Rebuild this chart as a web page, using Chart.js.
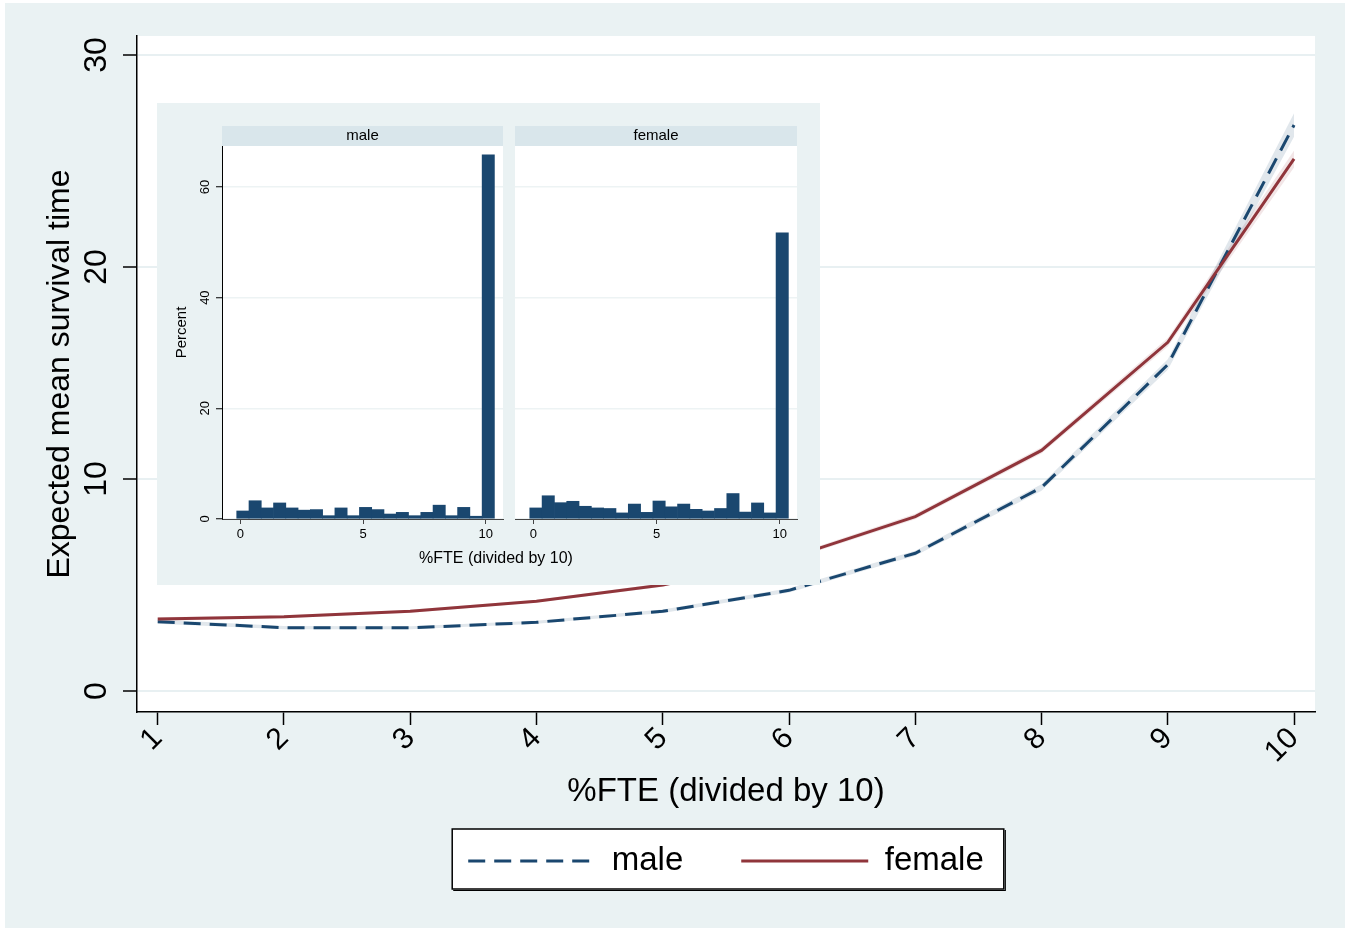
<!DOCTYPE html>
<html>
<head>
<meta charset="utf-8">
<script src="https://cdn.jsdelivr.net/npm/chart.js@4.4.1/dist/chart.umd.min.js"></script>
<style>
html,body{margin:0;padding:0;background:#ffffff;}
#wrap{position:relative;width:1349px;height:930px;overflow:hidden;}
canvas{position:absolute;display:block;}
#main{left:0;top:0;}
#histM{left:157px;top:103px;background:#eaf2f3;}
#histF{left:510px;top:103px;}
</style>
</head>
<body>
<div id="wrap">
<canvas id="main" width="1349" height="930"></canvas>
<canvas id="histM" width="663" height="482"></canvas>
<canvas id="histF" width="310" height="482"></canvas>
</div>
<script>
// ---------- data ----------
const fteLevels = [1, 2, 3, 4, 5, 6, 7, 8, 9, 10];
const maleMean   = [3.27, 2.99, 2.98, 3.24, 3.76, 4.75, 6.50, 9.60, 15.40, 26.70];
const maleLo     = [3.17, 2.91, 2.91, 3.17, 3.68, 4.65, 6.38, 9.45, 15.15, 26.15];
const maleHi     = [3.37, 3.07, 3.05, 3.31, 3.84, 4.85, 6.62, 9.75, 15.65, 27.25];
const femaleMean = [3.40, 3.50, 3.76, 4.24, 5.00, 6.27, 8.23, 11.35, 16.45, 25.10];
const femaleLo   = [3.32, 3.43, 3.69, 4.17, 4.92, 6.17, 8.10, 11.20, 16.25, 24.70];
const femaleHi   = [3.48, 3.57, 3.83, 4.31, 5.08, 6.37, 8.36, 11.50, 16.65, 25.50];
const yTicks = [0, 10, 20, 30];

const binCenters = [0.1, 0.6, 1.1, 1.6, 2.1, 2.6, 3.1, 3.6, 4.1, 4.6, 5.1, 5.6, 6.1, 6.6, 7.1, 7.6, 8.1, 8.6, 9.1, 9.6, 10.1];
const malePct   = [1.45, 3.3, 2.0, 2.9, 2.0, 1.6, 1.7, 0.6, 2.0, 0.6, 2.1, 1.7, 0.9, 1.2, 0.6, 1.2, 2.5, 0.6, 2.1, 0.5, 65.8];
const femalePct = [2.0, 4.2, 2.95, 3.2, 2.3, 2.0, 1.9, 1.1, 2.7, 1.2, 3.25, 2.2, 2.7, 1.75, 1.45, 1.9, 4.6, 1.25, 2.9, 1.1, 51.7];
const histYTicks = [0, 20, 40, 60];
const histXTicks = [0, 5, 10];

// ---------- styling ----------
const FONT = "'Liberation Sans', Arial, Helvetica, sans-serif";
Chart.defaults.font.family = FONT;
Chart.defaults.color = '#000';
const NAVY = '#1a476f';
const MAROON = '#90353b';
const BG = '#eaf2f3';

const toXY = ys => fteLevels.map((x, i) => ({x: x, y: ys[i]}));

const mainBg = {
  id: 'mainBg',
  beforeDraw(chart) {
    const {ctx, chartArea: a} = chart;
    ctx.save();
    ctx.fillStyle = '#ffffff';
    ctx.fillRect(0, 0, chart.width, chart.height);
    ctx.fillStyle = BG;
    ctx.fillRect(5, 3, 1340, 925);
    ctx.fillStyle = '#ffffff';
    ctx.fillRect(a.left, a.top, a.right - a.left, a.bottom - a.top);
    // legend frame
    const hb = chart.legend && chart.legend.legendHitBoxes;
    if (hb && hb.length) {
      const f = hb[0], l = hb[hb.length - 1];
      const x0 = f.left - 16, x1 = l.left + l.width + 20;
      const y0 = f.top - 15.5, y1 = f.top + f.height + 11.5;
      ctx.fillStyle = '#ffffff';
      ctx.fillRect(x0, y0, x1 - x0, y1 - y0);
      ctx.strokeStyle = '#000';
      ctx.lineWidth = 1.5;
      ctx.strokeRect(x0, y0, x1 - x0, y1 - y0);
      ctx.lineWidth = 1.2;
      ctx.beginPath();
      ctx.moveTo(x0 + 1, y1 + 1.5); ctx.lineTo(x1 + 1.5, y1 + 1.5); ctx.lineTo(x1 + 1.5, y0 + 1);
      ctx.stroke();
    }
    ctx.restore();
  }
};

new Chart(document.getElementById('main'), {
  type: 'line',
  data: {
    datasets: [
      {label: 'female', data: toXY(femaleMean), borderColor: MAROON, borderWidth: 3, pointRadius: 0, fill: false, tension: 0},
      {label: 'male', data: toXY(maleMean), borderColor: NAVY, borderWidth: 3, borderDash: [17, 9], pointRadius: 0, fill: false, tension: 0},
      {label: 'maleLo', data: toXY(maleLo), borderColor: 'rgba(0,0,0,0)', borderWidth: 0, pointRadius: 0, fill: false},
      {label: 'maleHi', data: toXY(maleHi), borderColor: 'rgba(0,0,0,0)', borderWidth: 0, pointRadius: 0, fill: {target: 2}, backgroundColor: 'rgba(26,71,111,0.13)'},
      {label: 'femaleLo', data: toXY(femaleLo), borderColor: 'rgba(0,0,0,0)', borderWidth: 0, pointRadius: 0, fill: false},
      {label: 'femaleHi', data: toXY(femaleHi), borderColor: 'rgba(0,0,0,0)', borderWidth: 0, pointRadius: 0, fill: {target: 4}, backgroundColor: 'rgba(144,53,59,0.12)'}
    ]
  },
  options: {
    responsive: false,
    animation: false,
    events: [],
    layout: {padding: {left: 0, right: 34, top: 36, bottom: 42.5}},
    plugins: {
      tooltip: {enabled: false},
      legend: {
        display: true,
        position: 'bottom',
        fullSize: false,
        labels: {
          usePointStyle: true,
          pointStyle: 'line',
          pointStyleWidth: 127,
          padding: 58,
          color: '#000',
          font: {size: 33},
          generateLabels(chart) {
            return [1, 0].map(i => {
              const ds = chart.data.datasets[i];
              return {
                text: ds.label, datasetIndex: i, hidden: false,
                fillStyle: ds.borderColor, strokeStyle: ds.borderColor,
                lineWidth: 3, lineDash: ds.borderDash || [], pointStyle: 'line',
                fontColor: '#000'
              };
            });
          }
        }
      }
    },
    scales: {
      x: {
        type: 'linear',
        min: 0.836, max: 10.166,
        offset: false,
        afterBuildTicks: s => { s.ticks = fteLevels.map(v => ({value: v})); },
        afterFit: s => { s.height = 74.5; },
        grid: {drawOnChartArea: false, drawTicks: true, tickLength: 13, tickColor: '#000', tickWidth: 1.5},
        border: {display: true, color: '#000', width: 1.5},
        ticks: {font: {size: 30}, minRotation: 45, maxRotation: 45, autoSkip: false, padding: -4, color: '#000'},
        title: {display: true, text: '%FTE (divided by 10)', font: {size: 33}, padding: {top: 0, bottom: -25.3}, color: '#000'}
      },
      y: {
        type: 'linear',
        min: -0.99, max: 30.9,
        afterBuildTicks: s => { s.ticks = yTicks.map(v => ({value: v})); },
        afterFit: s => { s.width = 137; },
        grid: {color: '#e8f0f2', lineWidth: 2, tickColor: '#000', tickLength: 14, tickWidth: 1.5},
        border: {display: true, color: '#000', width: 1.5},
        ticks: {font: {size: 32}, minRotation: 90, maxRotation: 90, crossAlign: 'center', padding: 8, color: '#000'},
        title: {display: true, text: 'Expected mean survival time', font: {size: 32}, padding: {top: 40.8, bottom: 0}, color: '#000'}
      }
    }
  },
  plugins: [mainBg]
});

// ---------- inset histograms ----------
const stripPlugin = {
  id: 'strip',
  beforeDraw(chart) {
    const {ctx, chartArea: a} = chart;
    ctx.save();
    ctx.fillStyle = '#ffffff';
    ctx.fillRect(a.left, a.top, a.right - a.left, a.bottom - a.top);
    ctx.fillStyle = '#d9e6eb';
    ctx.fillRect(a.left, a.top - 20, a.right - a.left, 20);
    ctx.restore();
  }
};

function histX() {
  return {
    type: 'linear', min: -0.75, max: 10.7, offset: false,
    afterBuildTicks: s => { s.ticks = histXTicks.map(v => ({value: v})); },
    afterFit: s => { s.height = 26; },
    grid: {drawOnChartArea: false, offset: false, tickLength: 5, tickColor: '#444', tickWidth: 1},
    border: {display: true, color: '#444', width: 1},
    ticks: {font: {size: 13}, padding: 2.2, maxRotation: 0, autoSkip: false, color: '#000'}
  };
}
function histTitle(t) {
  return {display: true, text: t, position: 'top', fullSize: false, font: {size: 15, weight: 'normal'}, padding: {top: 1, bottom: 1}, color: '#000'};
}
const barDs = (label, vals) => ({
  label: label,
  data: binCenters.map((x, i) => ({x: x, y: vals[i]})),
  backgroundColor: NAVY, borderWidth: 0, barPercentage: 1, categoryPercentage: 1
});

new Chart(document.getElementById('histM'), {
  type: 'bar',
  data: {datasets: [barDs('male', malePct)]},
  options: {
    responsive: false, animation: false, events: [],
    layout: {padding: {left: 15, right: 0, top: 23, bottom: 16.8}},
    plugins: {
      legend: {display: false}, tooltip: {enabled: false},
      title: histTitle('male'),
      subtitle: {display: true, text: '%FTE (divided by 10)', position: 'bottom', fullSize: true, font: {size: 16, weight: 'normal'}, padding: {top: 4, bottom: 0}, color: '#000'}
    },
    scales: {
      x: histX(),
      y: {
        type: 'linear', min: 0, max: 67.4,
        afterBuildTicks: s => { s.ticks = histYTicks.map(v => ({value: v})); },
        afterFit: s => { s.width = 50; },
        grid: {color: '#edf3f4', lineWidth: 1.5, tickLength: 6, tickColor: '#000', tickWidth: 1},
        border: {display: true, color: '#000', width: 1},
        ticks: {font: {size: 13}, minRotation: 90, maxRotation: 90, crossAlign: 'center', padding: 3.8, color: '#000'},
        title: {display: true, text: 'Percent', font: {size: 15}, padding: {top: 0.5, bottom: 0}, color: '#000'}
      },
      yR: {
        type: 'linear', position: 'right', display: true,
        afterFit: s => { s.width = 317; },
        grid: {display: false, drawTicks: false},
        border: {display: false},
        ticks: {display: false}
      }
    }
  },
  plugins: [stripPlugin]
});

new Chart(document.getElementById('histF'), {
  type: 'bar',
  data: {datasets: [barDs('female', femalePct)]},
  options: {
    responsive: false, animation: false, events: [],
    layout: {padding: {left: 5, right: 23, top: 23, bottom: 40}},
    plugins: {
      legend: {display: false}, tooltip: {enabled: false},
      title: histTitle('female')
    },
    scales: {
      x: histX(),
      y: {
        type: 'linear', min: 0, max: 67.4,
        afterBuildTicks: s => { s.ticks = histYTicks.map(v => ({value: v})); },
        afterFit: s => { s.width = 0; },
        grid: {color: '#edf3f4', lineWidth: 1.5, drawTicks: false},
        border: {display: false},
        ticks: {display: false}
      }
    }
  },
  plugins: [stripPlugin]
});
</script>
</body>
</html>
